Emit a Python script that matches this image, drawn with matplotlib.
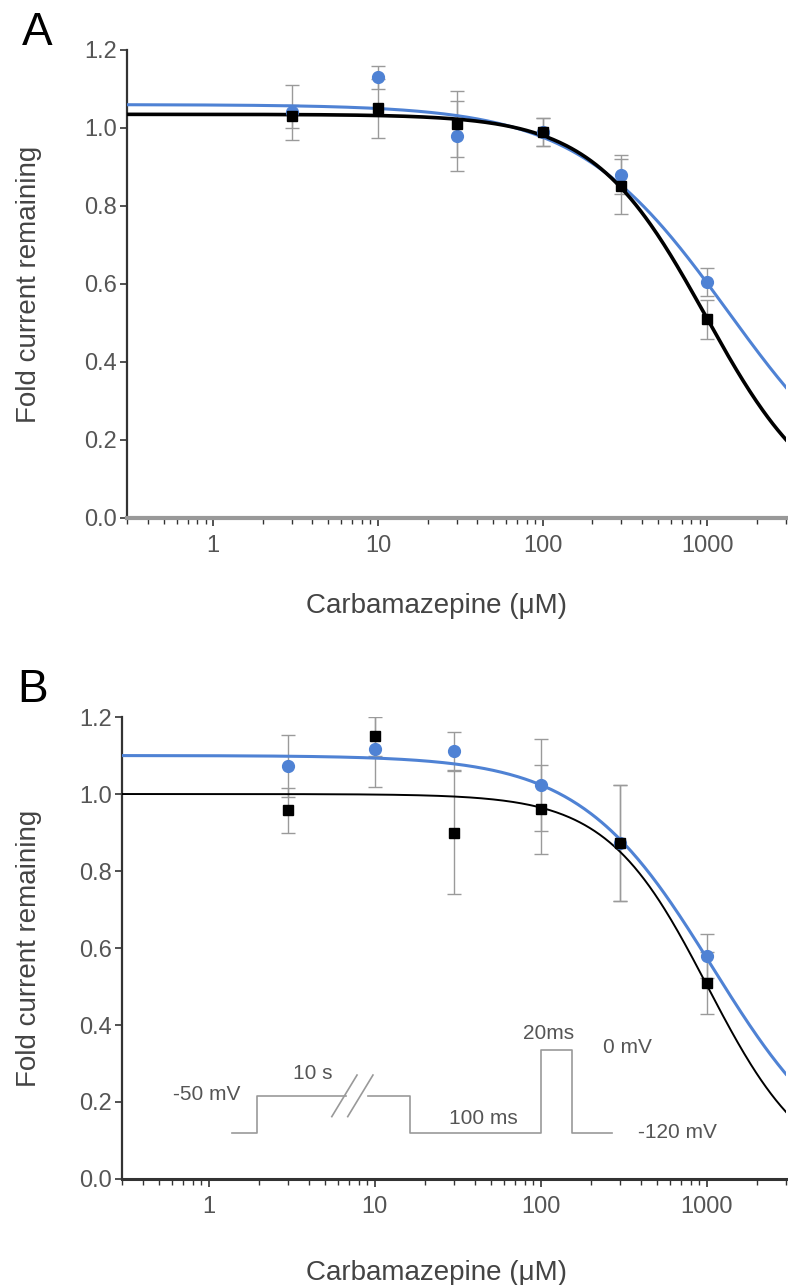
import numpy as np
import matplotlib
matplotlib.use("Agg")
import matplotlib.pyplot as plt
from matplotlib.ticker import LogLocator, FixedLocator, NullFormatter

plt.rcParams['font.family'] = ['Liberation Sans', 'DejaVu Sans']

BLUE = "#4f82d4"
GREY = "#9a9a9a"

# concentrations (uM)
conc = [3, 10, 30, 100, 300, 1000]

# panel A
a_black = [1.03, 1.05, 1.01, 0.99, 0.85, 0.51]
a_black_err = [0.03, 0.075, 0.085, 0.035, 0.07, 0.05]
a_blue = [1.04, 1.13, 0.98, 0.99, 0.88, 0.605]
a_blue_err = [0.07, 0.03, 0.09, 0.035, 0.05, 0.035]

# panel B
b_black = [0.958, 1.15, 0.90, 0.96, 0.873, 0.509]
b_black_err = [0.058, 0.05, 0.16, 0.115, 0.15, 0.08]
b_blue = [1.073, 1.117, 1.112, 1.023, 0.873, 0.579]
b_blue_err = [0.08, 0.10, 0.05, 0.12, 0.15, 0.057]

# Hill fit parameters: (top, IC50, hill slope)
a_black_fit = (1.035, 977, 1.27)
a_blue_fit = (1.06, 1330, 0.95)
b_black_fit = (1.00, 1011, 1.43)
b_blue_fit = (1.10, 1083, 1.09)

# voltage protocol sketch for panel B (axes fractions)
proto_x = [0.166, 0.203, 0.203, 0.337]
proto_y = [0.10, 0.10, 0.18, 0.18]
proto_x2 = [0.370, 0.434, 0.434, 0.631, 0.631, 0.678, 0.678, 0.738]
proto_y2 = [0.18, 0.18, 0.10, 0.10, 0.28, 0.28, 0.10, 0.10]


def hill(x, top, ic50, n):
    return top / (1 + (x / ic50) ** n)


def style_axis(ax, bottom_color, bottom_lw):
    ax.set_xscale("log")
    ax.set_xlim(0.3, 3000)
    ax.set_ylim(0, 1.2)
    ax.spines["top"].set_visible(False)
    ax.spines["right"].set_visible(False)
    ax.spines["left"].set_color("#333333")
    ax.spines["left"].set_linewidth(1.6)
    ax.spines["bottom"].set_color(bottom_color)
    ax.spines["bottom"].set_linewidth(bottom_lw)
    ax.set_yticks(np.arange(0, 1.21, 0.2))
    ax.set_yticklabels([f"{v:.1f}" for v in np.arange(0, 1.21, 0.2)])
    ax.xaxis.set_major_locator(FixedLocator([1, 10, 100, 1000]))
    ax.set_xticklabels(["1", "10", "100", "1000"])
    ax.xaxis.set_minor_locator(LogLocator(base=10, subs=np.arange(2, 10), numticks=20))
    ax.xaxis.set_minor_formatter(NullFormatter())
    ax.tick_params(axis="y", direction="out", length=5, width=1.2, color="#333333",
                   labelsize=17, labelcolor="#555555", pad=2)
    ax.tick_params(axis="x", which="major", direction="out", length=6, width=1.2,
                   color="#333333", labelsize=17, labelcolor="#555555", pad=6)
    ax.tick_params(axis="x", which="minor", direction="out", length=4, width=1.0,
                   color="#333333")
    ax.set_xlabel("Carbamazepine (μM)", fontsize=20, color="#444444")
    ax.set_ylabel("Fold current remaining", fontsize=20, color="#444444")


xfit = np.logspace(np.log10(0.3), np.log10(3000), 400)

fig = plt.figure(figsize=(7.88, 12.85), dpi=100)

# ---- panel A
axA = fig.add_axes([0.1612, 0.5969, 0.8363, 0.3642])
style_axis(axA, "#999999", 3)
axA.errorbar(conc, a_blue, yerr=a_blue_err, fmt="none", ecolor=GREY, elinewidth=1,
             capsize=5, capthick=1, zorder=2)
axA.errorbar(conc, a_black, yerr=a_black_err, fmt="none", ecolor=GREY, elinewidth=1,
             capsize=5, capthick=1, zorder=2)
axA.plot(xfit, hill(xfit, *a_blue_fit), color=BLUE, lw=2.2, zorder=3)
axA.plot(xfit, hill(xfit, *a_black_fit), color="black", lw=2.6, zorder=4)
axA.plot(conc, a_blue, "o", color=BLUE, ms=8.5, zorder=5)
axA.plot(conc, a_black, "s", color="black", ms=7.5, zorder=6)
axA.yaxis.set_label_coords(-0.129, 0.5)
axA.xaxis.set_label_coords(0.47, -0.160)

# ---- panel B
axB = fig.add_axes([0.1548, 0.0825, 0.8426, 0.3595])
style_axis(axB, "#333333", 2.2)
axB.errorbar(conc, b_blue, yerr=b_blue_err, fmt="none", ecolor=GREY, elinewidth=1,
             capsize=5, capthick=1, zorder=2)
axB.errorbar(conc, b_black, yerr=b_black_err, fmt="none", ecolor=GREY, elinewidth=1,
             capsize=5, capthick=1, zorder=2)
axB.plot(xfit, hill(xfit, *b_black_fit), color="black", lw=1.4, zorder=3)
axB.plot(xfit, hill(xfit, *b_blue_fit), color=BLUE, lw=2.2, zorder=4)
axB.plot(conc, b_blue, "o", color=BLUE, ms=8.5, zorder=5)
axB.plot(conc, b_black, "s", color="black", ms=7.5, zorder=6)
axB.yaxis.set_label_coords(-0.120, 0.5)
axB.xaxis.set_label_coords(0.473, -0.175)

# protocol inset
pc = "#999999"
axB.plot(proto_x, proto_y, color=pc, lw=1.2, transform=axB.transAxes, clip_on=False)
axB.plot(proto_x2, proto_y2, color=pc, lw=1.2, transform=axB.transAxes, clip_on=False)
for dx in (0.0, 0.024):
    axB.plot([0.316 + dx, 0.354 + dx], [0.135, 0.225], color=pc, lw=1.2,
             transform=axB.transAxes)
tkw = dict(transform=axB.transAxes, fontsize=15, color="#555555", va="center")
axB.text(0.178, 0.182, "-50 mV", ha="right", **tkw)
axB.text(0.288, 0.228, "10 s", ha="center", **tkw)
axB.text(0.544, 0.130, "100 ms", ha="center", **tkw)
axB.text(0.642, 0.315, "20ms", ha="center", **tkw)
axB.text(0.761, 0.284, "0 mV", ha="center", **tkw)
axB.text(0.836, 0.10, "-120 mV", ha="center", **tkw)

fig.text(37 / 788, 1 - 33 / 1285, "A", fontsize=33, ha="center", va="center")
fig.text(33 / 788, 1 - 690 / 1285, "B", fontsize=33, ha="center", va="center")

fig.savefig("out.png", dpi=100)
